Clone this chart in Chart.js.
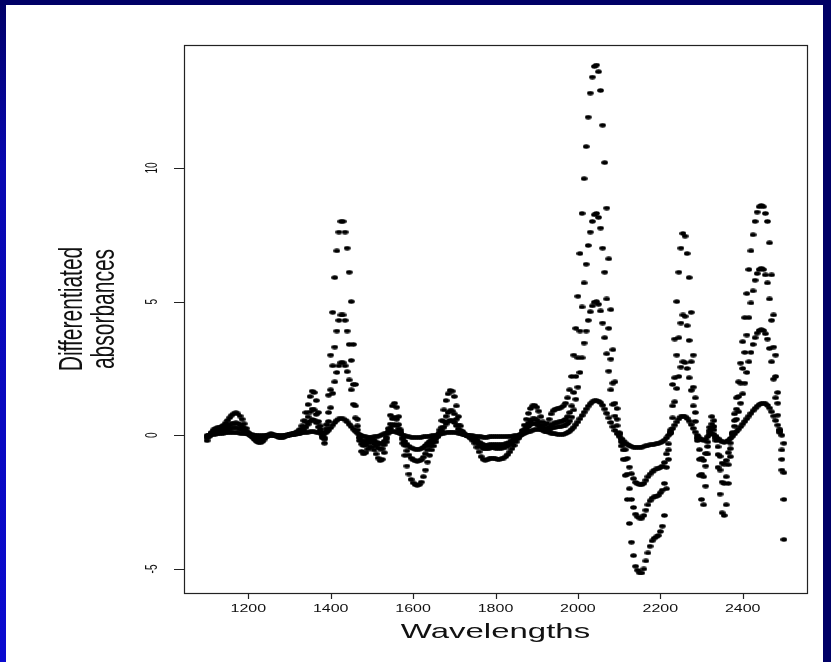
<!DOCTYPE html>
<html>
<head>
<meta charset="utf-8">
<title>Differentiated absorbances</title>
<script src="https://cdn.jsdelivr.net/npm/chart.js@4.4.0/dist/chart.umd.min.js"></script>
<style>
  html, body { margin: 0; padding: 0; background: #000066; }
  #myChart { display: block; }
</style>
</head>
<body>
<canvas id="myChart" width="831" height="662"></canvas>
<script>
// wavelengths (nm), one row per 100 nm
var wavelengths = [
  1100,1105,1110,1115,1120,1125,1130,1135,1140,1145,1150,1155,1160,1165,1170,1175,1180,1185,1190,1195,
  1200,1205,1210,1215,1220,1225,1230,1235,1240,1245,1250,1255,1260,1265,1270,1275,1280,1285,1290,1295,
  1300,1305,1310,1315,1320,1325,1330,1335,1340,1345,1350,1355,1360,1365,1370,1375,1380,1385,1390,1395,
  1400,1405,1410,1415,1420,1425,1430,1435,1440,1445,1450,1455,1460,1465,1470,1475,1480,1485,1490,1495,
  1500,1505,1510,1515,1520,1525,1530,1535,1540,1545,1550,1555,1560,1565,1570,1575,1580,1585,1590,1595,
  1600,1605,1610,1615,1620,1625,1630,1635,1640,1645,1650,1655,1660,1665,1670,1675,1680,1685,1690,1695,
  1700,1705,1710,1715,1720,1725,1730,1735,1740,1745,1750,1755,1760,1765,1770,1775,1780,1785,1790,1795,
  1800,1805,1810,1815,1820,1825,1830,1835,1840,1845,1850,1855,1860,1865,1870,1875,1880,1885,1890,1895,
  1900,1905,1910,1915,1920,1925,1930,1935,1940,1945,1950,1955,1960,1965,1970,1975,1980,1985,1990,1995,
  2000,2005,2010,2015,2020,2025,2030,2035,2040,2045,2050,2055,2060,2065,2070,2075,2080,2085,2090,2095,
  2100,2105,2110,2115,2120,2125,2130,2135,2140,2145,2150,2155,2160,2165,2170,2175,2180,2185,2190,2195,
  2200,2205,2210,2215,2220,2225,2230,2235,2240,2245,2250,2255,2260,2265,2270,2275,2280,2285,2290,2295,
  2300,2305,2310,2315,2320,2325,2330,2335,2340,2345,2350,2355,2360,2365,2370,2375,2380,2385,2390,2395,
  2400,2405,2410,2415,2420,2425,2430,2435,2440,2445,2450,2455,2460,2465,2470,2475,2480,2485,2490,2495,
  2500
];

// largest differentiated spectrum
var derivA = [
  -0.2,-0.05,0.1,0.2,0.25,0.28,0.3,0.33,0.38,0.46,0.56,0.66,0.75,0.81,0.84,0.8,0.72,0.6,0.43,0.26,
  0.1,0,-0.08,-0.16,-0.23,-0.27,-0.28,-0.23,-0.14,-0.05,0.02,0.05,0.04,0,-0.05,-0.09,-0.1,-0.08,-0.04,0,
  0.03,0.05,0.07,0.1,0.15,0.22,0.35,0.55,0.85,1.15,1.45,1.65,1.6,1.3,0.85,0.35,-0.1,-0.3,0.4,1.5,
  3.0,4.6,5.9,6.9,7.6,8.0,8.0,7.6,7.0,6.1,5.0,3.4,1.9,0.6,-0.2,-0.6,-0.7,-0.65,-0.52,-0.43,
  -0.45,-0.55,-0.7,-0.85,-0.95,-0.9,-0.65,-0.25,0.25,0.75,1.1,1.2,1.05,0.7,0.2,-0.3,-0.75,-1.15,-1.45,-1.65,
  -1.78,-1.85,-1.87,-1.85,-1.75,-1.55,-1.3,-1.0,-0.75,-0.55,-0.4,-0.25,-0.05,0.2,0.55,0.95,1.3,1.55,1.68,1.65,
  1.45,1.1,0.7,0.35,0.15,0.05,0,-0.05,-0.12,-0.2,-0.3,-0.45,-0.62,-0.8,-0.9,-0.93,-0.92,-0.88,-0.85,-0.86,
  -0.88,-0.9,-0.9,-0.88,-0.85,-0.8,-0.72,-0.62,-0.5,-0.38,-0.25,-0.12,0.02,0.18,0.38,0.6,0.82,1.0,1.1,1.12,
  1.05,0.9,0.7,0.5,0.4,0.45,0.6,0.8,0.92,0.98,1.0,1.02,1.05,1.1,1.2,1.4,1.7,2.2,3.0,4.0,
  5.2,6.8,8.3,9.6,10.8,11.9,12.8,13.4,13.8,13.85,13.6,12.9,11.6,10.2,8.5,6.6,4.7,3.2,2.0,1.0,
  0.1,-0.4,-0.9,-1.5,-2.4,-3.3,-4.0,-4.5,-4.9,-5.05,-5.15,-5.15,-5.0,-4.7,-4.4,-4.15,-3.95,-3.85,-3.8,-3.75,
  -3.6,-3.4,-3.0,-2.0,-0.9,0.2,1.9,3.6,5.0,6.1,7.0,7.55,7.45,6.8,5.9,4.6,3.0,1.4,-0.2,-1.5,
  -2.4,-2.6,-1.9,-0.7,0.3,0.7,0.55,-0.2,-1.2,-2.2,-2.9,-3.0,-2.6,-1.8,-0.8,0.1,0.8,1.4,2.0,2.7,
  3.5,4.4,5.3,6.2,6.9,7.5,8.0,8.35,8.55,8.6,8.55,8.3,8.0,7.2,6.0,4.5,3.0,1.6,0.2,-1.3,
  -3.9
];

var derivB = [
  -0.1,0,0.08,0.14,0.18,0.2,0.22,0.24,0.27,0.31,0.35,0.39,0.43,0.45,0.46,0.44,0.4,0.33,0.25,0.16,
  0.07,0.01,-0.04,-0.09,-0.13,-0.16,-0.16,-0.13,-0.08,-0.03,0.01,0.03,0.02,0,-0.03,-0.05,-0.06,-0.05,-0.02,0,
  0.02,0.03,0.04,0.06,0.09,0.13,0.21,0.33,0.5,0.69,0.87,0.98,0.95,0.78,0.52,0.22,-0.05,-0.15,0.25,0.85,
  1.7,2.6,3.3,3.9,4.3,4.5,4.5,4.3,3.9,3.4,2.8,1.9,1.1,0.35,-0.1,-0.33,-0.39,-0.36,-0.29,-0.24,
  -0.25,-0.31,-0.39,-0.47,-0.52,-0.5,-0.36,-0.14,0.14,0.42,0.62,0.68,0.6,0.4,0.12,-0.15,-0.38,-0.58,-0.74,-0.85,
  -0.92,-0.96,-0.97,-0.96,-0.92,-0.82,-0.69,-0.54,-0.41,-0.3,-0.22,-0.14,-0.03,0.11,0.3,0.52,0.71,0.85,0.92,0.91,
  0.8,0.6,0.38,0.19,0.08,0.03,0,-0.03,-0.07,-0.11,-0.17,-0.25,-0.34,-0.43,-0.49,-0.51,-0.5,-0.48,-0.47,-0.47,
  -0.48,-0.49,-0.49,-0.48,-0.46,-0.44,-0.4,-0.34,-0.28,-0.21,-0.14,-0.07,0.01,0.1,0.21,0.33,0.45,0.55,0.61,0.62,
  0.58,0.5,0.39,0.29,0.24,0.25,0.31,0.38,0.43,0.46,0.48,0.5,0.52,0.55,0.6,0.7,0.85,1.1,1.6,2.2,
  2.9,3.9,4.8,5.7,6.4,7.1,7.6,8.0,8.25,8.3,8.15,7.75,7.0,6.1,5.1,4.0,2.85,1.95,1.2,0.6,
  0.06,-0.24,-0.55,-0.9,-1.45,-2.0,-2.4,-2.7,-2.95,-3.05,-3.1,-3.1,-3.0,-2.8,-2.6,-2.45,-2.35,-2.3,-2.28,-2.25,
  -2.15,-2.05,-1.8,-1.2,-0.55,0.12,1.1,2.15,3.0,3.65,4.2,4.5,4.45,4.1,3.55,2.75,1.8,0.85,-0.12,-0.9,
  -1.45,-1.55,-1.15,-0.42,0.18,0.42,0.33,-0.12,-0.72,-1.3,-1.75,-1.8,-1.55,-1.1,-0.5,0.06,0.55,0.98,1.45,1.95,
  2.5,3.1,3.75,4.4,4.95,5.4,5.8,6.05,6.2,6.25,6.2,6.0,5.7,5.1,4.3,3.3,2.2,1.2,0.15,-0.9,
  -2.4
];

var derivC = [
  -0.05,0,0.05,0.09,0.12,0.14,0.15,0.17,0.19,0.21,0.23,0.25,0.27,0.28,0.28,0.27,0.24,0.2,0.15,0.1,
  0.05,0.01,-0.02,-0.05,-0.08,-0.09,-0.09,-0.08,-0.05,-0.02,0.01,0.02,0.01,0,-0.02,-0.03,-0.04,-0.03,-0.01,0,
  0.01,0.02,0.03,0.04,0.06,0.08,0.13,0.2,0.3,0.41,0.52,0.59,0.57,0.47,0.31,0.13,-0.03,-0.09,0.15,0.52,
  1.03,1.57,2.0,2.35,2.6,2.72,2.72,2.6,2.38,2.07,1.7,1.16,0.65,0.2,-0.07,-0.2,-0.24,-0.22,-0.18,-0.15,
  -0.15,-0.19,-0.24,-0.29,-0.32,-0.3,-0.22,-0.08,0.08,0.25,0.37,0.41,0.36,0.24,0.07,-0.09,-0.23,-0.33,-0.41,-0.47,
  -0.5,-0.52,-0.53,-0.52,-0.5,-0.45,-0.38,-0.3,-0.23,-0.17,-0.12,-0.08,-0.02,0.06,0.17,0.3,0.42,0.51,0.56,0.55,
  0.48,0.36,0.23,0.12,0.05,0.02,0,-0.02,-0.05,-0.08,-0.12,-0.18,-0.25,-0.31,-0.35,-0.37,-0.37,-0.36,-0.35,-0.35,
  -0.36,-0.36,-0.36,-0.35,-0.34,-0.32,-0.29,-0.25,-0.2,-0.15,-0.1,-0.05,0.01,0.07,0.15,0.24,0.33,0.4,0.44,0.45,
  0.42,0.36,0.28,0.2,0.16,0.17,0.21,0.26,0.29,0.3,0.31,0.32,0.33,0.35,0.38,0.44,0.53,0.68,0.95,1.35,
  1.8,2.35,2.9,3.45,3.9,4.3,4.62,4.84,4.98,5.0,4.9,4.65,4.2,3.65,3.05,2.4,1.7,1.15,0.72,0.36,
  0.04,-0.14,-0.33,-0.54,-0.86,-1.19,-1.44,-1.62,-1.76,-1.82,-1.85,-1.85,-1.8,-1.68,-1.55,-1.45,-1.37,-1.3,-1.26,-1.24,
  -1.2,-1.15,-1.02,-0.7,-0.32,0.07,0.65,1.25,1.75,2.2,2.55,2.75,2.72,2.5,2.15,1.68,1.1,0.52,-0.07,-0.54,
  -0.86,-0.94,-0.68,-0.25,0.11,0.25,0.2,-0.07,-0.43,-0.79,-1.04,-1.08,-0.94,-0.65,-0.29,0.04,0.34,0.6,0.88,1.2,
  1.55,1.95,2.35,2.75,3.1,3.4,3.65,3.82,3.92,3.95,3.92,3.8,3.6,3.25,2.75,2.1,1.4,0.75,0.1,-0.55,
  -1.4
];

// smoothest, smallest spectrum
var derivD = [
  0,0.01,0.02,0.03,0.04,0.05,0.06,0.07,0.08,0.09,0.1,0.1,0.1,0.1,0.1,0.09,0.08,0.07,0.06,0.05,
  0.04,0.03,0.02,0.01,0,-0.01,-0.01,-0.01,0,0,0,0.01,0.01,0.01,0,0,0,0,0.01,0.02,
  0.03,0.04,0.05,0.06,0.07,0.08,0.09,0.1,0.11,0.12,0.13,0.13,0.13,0.12,0.1,0.08,0.07,0.08,0.12,0.19,
  0.28,0.38,0.48,0.56,0.61,0.63,0.62,0.57,0.5,0.41,0.32,0.23,0.15,0.08,0.03,-0.01,-0.04,-0.06,-0.07,-0.07,
  -0.07,-0.06,-0.05,-0.03,-0.01,0.02,0.05,0.08,0.11,0.13,0.14,0.14,0.12,0.09,0.05,0.01,-0.02,-0.04,-0.06,-0.07,
  -0.08,-0.08,-0.08,-0.08,-0.07,-0.06,-0.05,-0.04,-0.03,-0.02,-0.01,0,0.02,0.04,0.06,0.08,0.1,0.11,0.12,0.12,
  0.11,0.1,0.08,0.06,0.04,0.02,0.01,0,-0.01,-0.02,-0.03,-0.04,-0.05,-0.06,-0.07,-0.07,-0.07,-0.06,-0.05,-0.05,
  -0.05,-0.05,-0.05,-0.05,-0.05,-0.05,-0.04,-0.04,-0.03,-0.02,-0.01,0,0.02,0.04,0.07,0.1,0.13,0.16,0.19,0.21,
  0.22,0.22,0.21,0.19,0.16,0.13,0.1,0.08,0.06,0.05,0.04,0.03,0.03,0.04,0.06,0.1,0.15,0.22,0.3,0.4,
  0.5,0.62,0.74,0.86,0.98,1.09,1.18,1.25,1.29,1.3,1.28,1.22,1.12,0.98,0.82,0.65,0.48,0.32,0.18,0.06,
  -0.04,-0.13,-0.21,-0.28,-0.34,-0.39,-0.42,-0.44,-0.45,-0.45,-0.45,-0.44,-0.42,-0.4,-0.38,-0.36,-0.35,-0.33,-0.32,-0.3,
  -0.28,-0.24,-0.18,-0.1,0,0.12,0.25,0.38,0.5,0.61,0.69,0.72,0.7,0.63,0.53,0.4,0.26,0.12,0,-0.1,
  -0.17,-0.19,-0.14,-0.05,0.03,0.06,0.04,-0.03,-0.12,-0.2,-0.25,-0.26,-0.24,-0.19,-0.12,-0.04,0.05,0.14,0.23,0.32,
  0.42,0.52,0.62,0.72,0.82,0.92,1.01,1.09,1.15,1.19,1.2,1.18,1.12,1.02,0.88,0.72,0.55,0.38,0.2,0,
  -0.3
];

var xTicks = [1200, 1400, 1600, 1800, 2000, 2200, 2400];
var yTicks = [-5, 0, 5, 10];

var FONT = '"Liberation Sans", Arial, Helvetica, sans-serif';
var STRETCH = 1.6;   // the picture is squeezed, text is wider than tall

// small flat dot, like R pch 20 on a stretched picture
var dot = document.createElement('canvas');
dot.width = 7;
dot.height = 5;
(function() {
  var c = dot.getContext('2d');
  c.fillStyle = '#000';
  c.beginPath();
  c.ellipse(3.5, 2.5, 3.3, 2.2, 0, 0, Math.PI * 2);
  c.fill();
})();

function toPoints(values) {
  return wavelengths.map(function(w, i) { return { x: w, y: values[i] }; });
}

function stretchText(ctx, txt, x, y, sx, rot) {
  ctx.save();
  ctx.translate(x, y);
  ctx.scale(sx, 1);
  if (rot) ctx.rotate(rot);
  ctx.fillText(txt, 0, 0);
  ctx.restore();
}

var framePlugin = {
  id: 'frame',
  beforeDraw: function(chart) {
    var ctx = chart.ctx, W = chart.width, H = chart.height;
    ctx.save();
    ctx.fillStyle = '#000066';
    ctx.fillRect(0, 0, W, H);
    var g = ctx.createLinearGradient(0, 0, 0, H);
    g.addColorStop(0, '#000066');
    g.addColorStop(0.25, '#0808b0');
    g.addColorStop(1, '#0a0ad0');
    ctx.fillStyle = g;
    ctx.fillRect(0, 5, 6, H);
    ctx.fillStyle = '#ffffff';
    ctx.fillRect(6, 5, W - 6 - 8, H - 5);
    ctx.restore();
  },
  afterDraw: function(chart) {
    var ctx = chart.ctx, a = chart.chartArea;
    var xs = chart.scales.x, ys = chart.scales.y;
    ctx.save();
    ctx.strokeStyle = '#222';
    ctx.lineWidth = 1.2;
    ctx.strokeRect(a.left + 0.5, a.top + 0.5, a.right - a.left, a.bottom - a.top);

    ctx.fillStyle = '#111';
    ctx.textAlign = 'center';
    ctx.textBaseline = 'middle';

    // x axis ticks and labels
    ctx.font = '10px ' + FONT;
    ctx.beginPath();
    xTicks.forEach(function(t) {
      var px = Math.round(xs.getPixelForValue(t)) + 0.5;
      ctx.moveTo(px, a.bottom);
      ctx.lineTo(px, a.bottom + 6);
    });
    ctx.stroke();
    xTicks.forEach(function(t) {
      stretchText(ctx, String(t), xs.getPixelForValue(t), a.bottom + 16, STRETCH, 0);
    });

    // y axis ticks and labels (parallel to the axis)
    ctx.beginPath();
    yTicks.forEach(function(t) {
      var py = Math.round(ys.getPixelForValue(t)) + 0.5;
      ctx.moveTo(a.left, py);
      ctx.lineTo(a.left - 10, py);
    });
    ctx.stroke();
    yTicks.forEach(function(t) {
      stretchText(ctx, String(t), a.left - 31, ys.getPixelForValue(t), STRETCH, -Math.PI / 2);
    });

    // axis titles
    ctx.font = '21px ' + FONT;
    stretchText(ctx, 'Wavelengths', (a.left + a.right) / 2, a.bottom + 39, 1.57, 0);
    stretchText(ctx, 'Differentiated', 73, 309, STRETCH, -Math.PI / 2);
    stretchText(ctx, 'absorbances', 105, 309, STRETCH, -Math.PI / 2);
    ctx.restore();
  }
};

var series = [derivA, derivB, derivC, derivD];

var myChart = new Chart(document.getElementById('myChart'), {
  type: 'scatter',
  data: {
    datasets: series.map(function(s, i) {
      return {
        label: 'spectrum ' + (i + 1),
        data: toPoints(s),
        pointStyle: dot,
        pointRadius: 3,
        pointHoverRadius: 3,
        backgroundColor: '#000',
        borderColor: '#000',
        showLine: false
      };
    })
  },
  options: {
    responsive: false,
    animation: false,
    devicePixelRatio: 1,
    layout: { padding: { left: 184, top: 45, right: 24, bottom: 69 } },
    plugins: {
      legend: { display: false },
      tooltip: { enabled: false }
    },
    scales: {
      x: { type: 'linear', min: 1044, max: 2556, display: false },
      y: { type: 'linear', min: -5.9, max: 14.6, display: false }
    }
  },
  plugins: [framePlugin]
});
</script>
</body>
</html>
